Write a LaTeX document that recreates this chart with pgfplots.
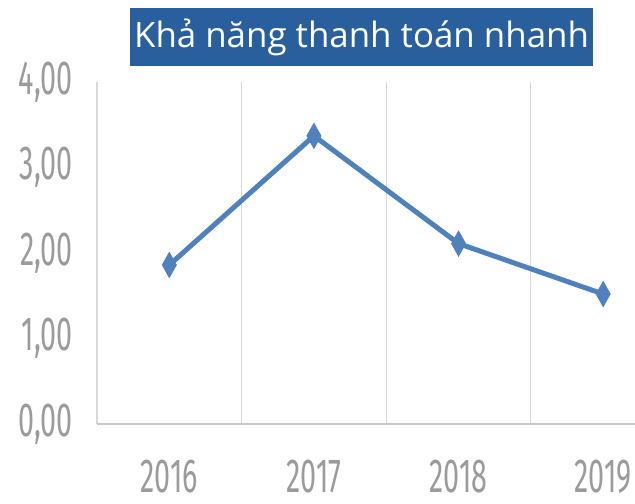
\documentclass[border=0pt]{standalone}
\usepackage{pgfplots}
\pgfplotsset{compat=1.18}
\usepackage{fontspec}
\setmainfont{Open Sans}
\newfontfamily\tickfont{Fira Sans}[FakeStretch=0.6]
\definecolor{lineblue}{RGB}{79,129,189}
\definecolor{titleblue}{RGB}{42,95,158}
\definecolor{gridgray}{RGB}{217,217,217}
\definecolor{axisgray}{RGB}{200,200,200}
\definecolor{ticktext}{RGB}{155,155,155}
\begin{document}
\begin{tikzpicture}
\useasboundingbox (-97bp,-80bp) rectangle (538bp,424bp);
\begin{axis}[
  at={(0,0)}, anchor=south west,
  scale only axis, width=538bp, height=342bp,
  xmin=-0.5, xmax=3.22, ymin=0, ymax=4,
  xtick={0,1,2,3}, xticklabels={2016,2017,2018,2019},
  ytick={0,1,2,3,4},
  axis line style={draw=none},
  major tick length=0pt,
  /pgf/number format/.cd, fixed, fixed zerofill, precision=2, use comma, assume math mode=true,
  /pgfplots/.cd,
  ticklabel style={font=\tickfont\fontsize{48}{48}\selectfont, text=ticktext, inner sep=0pt},
  yticklabel style={anchor=east, xshift=-24bp},
  xticklabel style={anchor=north, yshift=-36bp},
  extra x ticks={-0.5,0.5,1.5,2.5}, extra x tick labels={},
  extra x tick style={grid=major, major grid style={gridgray, line width=1.2bp}},
  extra y ticks={0}, extra y tick labels={},
  extra y tick style={grid=major, major grid style={axisgray, line width=1.8bp}},
  clip=false,
]
\addplot[lineblue, line width=5bp, mark=diamond*, mark size=12.5bp,
  mark options={xscale=0.75, line width=0.8bp, fill=lineblue}]
  coordinates {(0,1.86) (1,3.37) (2,2.11) (3,1.52)};
\end{axis}
\node[fill=titleblue, text=white, minimum width=463bp, minimum height=58bp, inner sep=0pt,
  font=\fontsize{35}{40}\selectfont] at (264.5bp,387bp) {Khả năng thanh toán nhanh};
\end{tikzpicture}
\end{document}
